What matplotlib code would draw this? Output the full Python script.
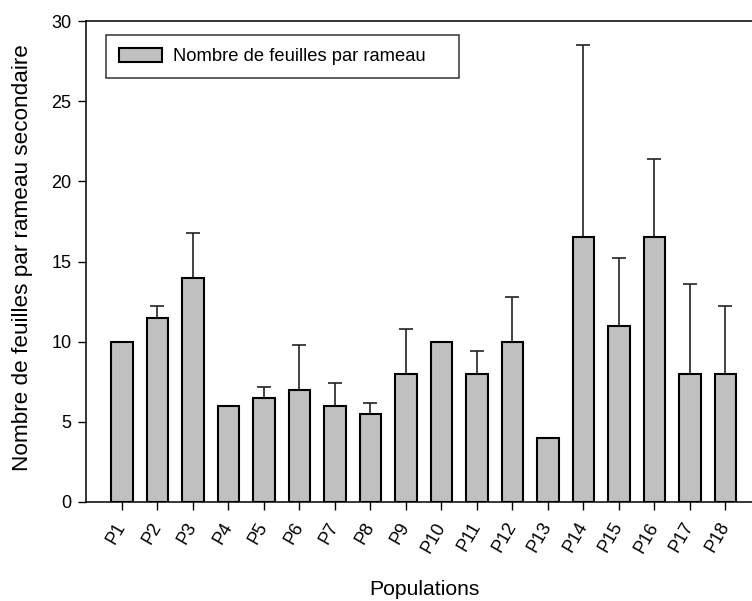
import matplotlib
matplotlib.use("Agg")
import matplotlib.pyplot as plt
import numpy as np

plt.rcParams['font.family'] = ['Liberation Sans', 'DejaVu Sans']

populations = ["P1", "P2", "P3", "P4", "P5", "P6", "P7", "P8", "P9", "P10",
               "P11", "P12", "P13", "P14", "P15", "P16", "P17", "P18"]
means = [10, 11.5, 14, 6, 6.5, 7, 6, 5.5, 8, 10, 8, 10, 4, 16.5, 11, 16.5, 8, 8]
errors = [0, 0.7, 2.8, 0, 0.7, 2.8, 1.4, 0.7, 2.8, 0, 1.4, 2.8, 0, 12.0, 4.2, 4.9, 5.6, 4.2]
yticks = [0, 5, 10, 15, 20, 25, 30]

fig = plt.figure(figsize=(7.52, 6.01), dpi=100)
# right spine lies outside the (cropped) image, as in the reference
ax = fig.add_axes([86 / 752, 99 / 601, 677 / 752, 481 / 601])

x = np.arange(len(populations))
ax.bar(x, means, width=0.6, color='#c0c0c0', edgecolor='black', linewidth=1.5,
       label='Nombre de feuilles par rameau', zorder=2)
ax.errorbar(x, means, yerr=[np.zeros(len(errors)), errors], fmt='none', ecolor='#222222',
            elinewidth=1.2, capsize=5, capthick=1.2, zorder=1)

ax.set_xlim(-1.01, 18.06)
ax.set_ylim(0, 30)
ax.set_yticks(yticks)
ax.set_xticks(x)
ax.set_xticklabels(populations, rotation=60, ha='right', va='center', rotation_mode='anchor')
ax.tick_params(axis='both', direction='out', length=5.5, width=1, labelsize=13)
ax.tick_params(axis='y', pad=5)
ax.tick_params(axis='x', pad=10)
for s in ax.spines.values():
    s.set_linewidth(1.1)

ax.set_xlabel('Populations', fontsize=15.2, va='baseline')
ax.xaxis.set_label_coords((424 - 86) / 677, -(595 - 502) / 481)
ax.set_ylabel('Nombre de feuilles par rameau secondaire', fontsize=16.2, va='baseline')
ax.yaxis.set_label_coords(-(86 - 28) / 677, (502 - 258) / 481)

leg = ax.legend(loc='upper left', bbox_to_anchor=(20 / 677, 467 / 481, 353 / 677, 0.0), mode='expand',
                borderaxespad=0, fontsize=13.2, frameon=True, fancybox=False,
                edgecolor='black', borderpad=0.7, handlelength=2.35, handleheight=0.82,
                handletextpad=0.6)
leg.get_frame().set_linewidth(1.1)

fig.savefig('out.png', dpi=100)
